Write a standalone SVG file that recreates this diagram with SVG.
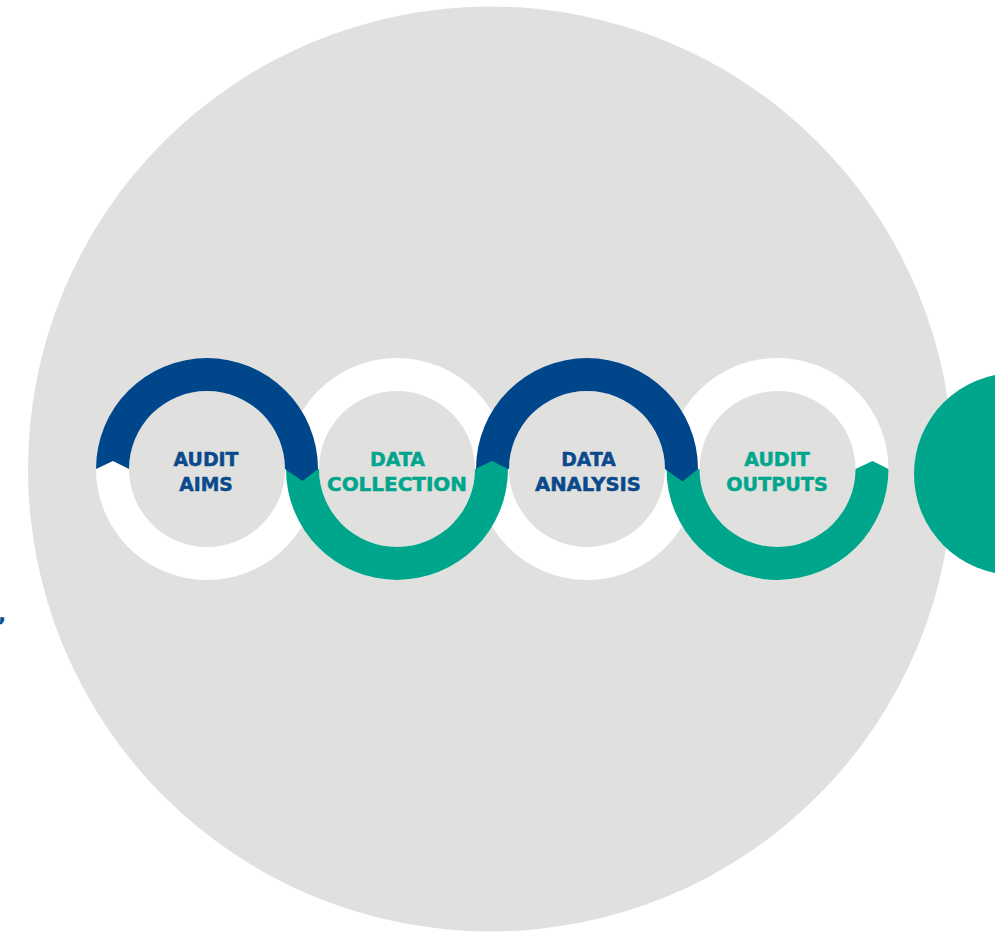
<svg xmlns="http://www.w3.org/2000/svg" width="995" height="933" viewBox="0 0 995 933">
  <style>
    .backdrop { fill: #e0e0df; }
    .track { fill: none; stroke: #ffffff; stroke-width: 33; }
    .arc-blue { fill: #00468a; }
    .arc-teal { fill: #00a68b; }
    .label { font-family: "DejaVu Sans", "Liberation Sans", Arial, sans-serif; font-weight: 700; font-size: 19px; text-anchor: middle; stroke-width: 0.5; stroke-linejoin: round; }
    .label-blue { fill: #0a4a8c; stroke: #0a4a8c; }
    .label-teal { fill: #00a68b; stroke: #00a68b; }
  </style>

  <rect width="995" height="933" fill="#ffffff"/>

  <!-- large backdrop disc -->
  <circle class="backdrop" cx="490.5" cy="469" r="462.5"/>

  <!-- teal disc cut by the right edge -->
  <circle class="arc-teal" cx="1015" cy="474" r="101"/>

  <!-- stray punctuation at the left edge -->
  <text x="-1.5" y="621" class="label label-blue" style="text-anchor:start">,</text>

  <!-- white ring tracks behind the coloured arcs -->
  <g id="tracks">
    <circle class="track" cx="207" cy="469" r="94.5"/>
    <circle class="track" cx="397" cy="469" r="94.5"/>
    <circle class="track" cx="587" cy="469" r="94.5"/>
    <circle class="track" cx="777.5" cy="469" r="94.5"/>
  </g>

  <!-- stages, drawn last-to-first so each arrow tip overlaps the next arc -->
  <g id="audit-outputs">
    <path class="arc-teal" d="M 666.5 469 L 699.5 469 A 78 78 0 0 0 855.5 469 L 872.5 461 L 888.5 469 A 111 111 0 0 1 666.5 469 Z"/>
    <text class="label label-teal" x="777" y="466" textLength="65.5" lengthAdjust="spacingAndGlyphs">AUDIT</text>
    <text class="label label-teal" x="777" y="490.5" textLength="101.5" lengthAdjust="spacingAndGlyphs">OUTPUTS</text>
  </g>

  <g id="data-analysis">
    <path class="arc-blue" d="M 509 469 L 476 469 A 111 111 0 0 1 698 469 L 682.5 481.5 L 665 469 A 78 78 0 0 0 509 469 Z"/>
    <text class="label label-blue" x="588.5" y="466" textLength="54.5" lengthAdjust="spacingAndGlyphs">DATA</text>
    <text class="label label-blue" x="588" y="490.5" textLength="106" lengthAdjust="spacingAndGlyphs">ANALYSIS</text>
  </g>

  <g id="data-collection">
    <path class="arc-teal" d="M 286 469 L 319 469 A 78 78 0 0 0 475 469 L 492 461 L 508 469 A 111 111 0 0 1 286 469 Z"/>
    <text class="label label-teal" x="397.5" y="466" textLength="55" lengthAdjust="spacingAndGlyphs">DATA</text>
    <text class="label label-teal" x="397" y="490.5" textLength="140" lengthAdjust="spacingAndGlyphs">COLLECTION</text>
  </g>

  <g id="audit-aims">
    <path class="arc-blue" d="M 129 469 L 113 461 L 96 469 A 111 111 0 0 1 318 469 L 302.5 481 L 285 469 A 78 78 0 0 0 129 469 Z"/>
    <text class="label label-blue" x="206" y="466" textLength="65" lengthAdjust="spacingAndGlyphs">AUDIT</text>
    <text class="label label-blue" x="206" y="490.5" textLength="53.5" lengthAdjust="spacingAndGlyphs">AIMS</text>
  </g>
</svg>
